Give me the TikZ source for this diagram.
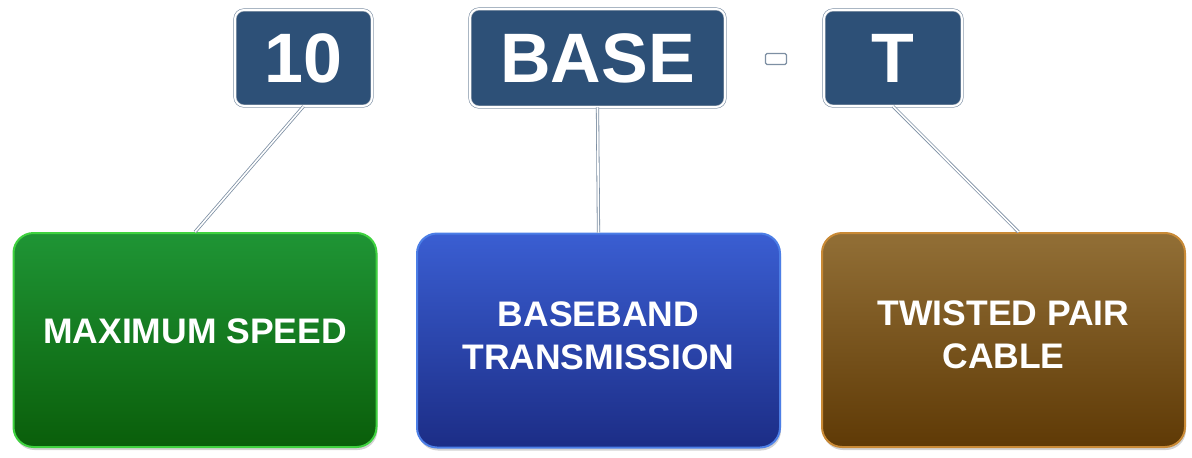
\documentclass[tikz,border=0pt]{standalone}
\usepackage{fontspec}
\setmainfont{Liberation Sans}
\usetikzlibrary{positioning,shadows}

\definecolor{navy}{HTML}{2D5077}
\definecolor{navyline}{HTML}{7D8FA3}
\definecolor{greentop}{HTML}{1F9535}
\definecolor{greenbot}{HTML}{0A5E0A}
\definecolor{greenline}{HTML}{3FD23F}
\definecolor{bluetop}{HTML}{3A5ED2}
\definecolor{bluebot}{HTML}{1C2D86}
\definecolor{blueline}{HTML}{4C7EE6}
\definecolor{browntop}{HTML}{926F36}
\definecolor{brownbot}{HTML}{5F3A06}
\definecolor{brownline}{HTML}{C98A36}

\tikzset{
  topbox/.style={rounded corners=9pt, fill=navy, draw=navyline, double=white,
    double distance=2pt, line width=0.6pt, text=white, inner sep=0pt,
    font=\fontsize{70}{70}\selectfont\bfseries, text depth=0pt},
  infobox/.style={rounded corners=20pt, line width=2pt, text=white, inner sep=0pt,
    align=center, font=\fontsize{35.5}{43}\selectfont\bfseries,
    minimum width=363pt, minimum height=214pt,
    drop shadow={shadow xshift=1pt, shadow yshift=-3pt, opacity=.35}},
  link/.style={draw=navyline, double=white, double distance=1.6pt, line width=0.8pt}
}

\begin{document}
\begin{tikzpicture}[x=1pt,y=-1pt]
\useasboundingbox (0,0) rectangle (1192,458);

% the three parts of the name
\path (303.5,58) node(ten)[topbox, minimum width=137pt, minimum height=96pt] {10};
\path (597.5,58) node(base)[topbox, minimum width=255pt, minimum height=98pt] {BASE};
\path (776,59) node(hyph)[rounded corners=1.5pt, fill=white, draw=navyline, line width=1.2pt,
  minimum width=21pt, minimum height=11pt, inner sep=0pt] {};
\path (893,58) node(tee)[topbox, minimum width=138pt, minimum height=96pt] {T};

% what each part means
\path (195,340) node(speed)[infobox, top color=greentop, bottom color=greenbot,
  draw=greenline, text depth=18pt] {MAXIMUM SPEED};
\path (598.5,340.5) node(band)[infobox, top color=bluetop, bottom color=bluebot,
  draw=blueline, text depth=10pt] {BASEBAND\\TRANSMISSION};
\path (1003.5,340) node(cable)[infobox, top color=browntop, bottom color=brownbot,
  draw=brownline, text depth=10pt] {TWISTED PAIR\\CABLE};

\draw[link] (ten.south) -- (speed.north);
\draw[link] (base.south) -- (band.north);
\draw[link] (tee.south) -- ([xshift=15pt]cable.north);
\end{tikzpicture}
\end{document}
